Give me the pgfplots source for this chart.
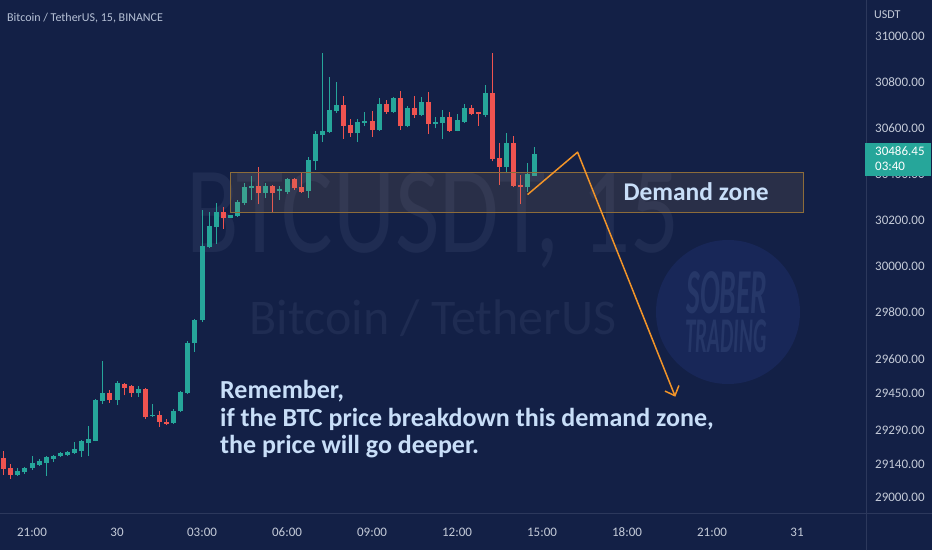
\documentclass[border=0pt]{standalone}
\usepackage{pgfplots}
\pgfplotsset{compat=1.18}
\usepackage{pgfplotstable}
\usepackage{graphicx}
\usetikzlibrary{arrows.meta}
\usepackage{fontspec}
\setmainfont{Carlito}

\definecolor{bg}{RGB}{19,32,70}
\definecolor{sep}{RGB}{44,56,92}
\definecolor{lab}{RGB}{196,202,216}
\definecolor{ttl}{RGB}{182,193,214}
\definecolor{up}{RGB}{38,166,154}
\definecolor{down}{RGB}{239,83,80}
\definecolor{ann}{RGB}{200,222,248}
\definecolor{wm}{RGB}{31,44,82}
\definecolor{logobg}{RGB}{24,39,88}
\definecolor{logotx}{RGB}{38,55,104}
\definecolor{zoneedge}{RGB}{140,108,58}
\definecolor{zonefill}{RGB}{170,135,90}
\definecolor{arrowc}{RGB}{242,148,40}

% BTC/USDT 15-minute candles, k = 0 is 20:00 (29th)
\pgfplotstableread{
k O H L C
0 29170 29201 29097 29121
1 29128 29142 29079 29097
2 29097 29128 29093 29111
3 29107 29131 29100 29128
4 29124 29177 29118 29146
5 29139 29167 29135 29156
6 29149 29177 29093 29173
7 29167 29181 29152 29180
8 29177 29194 29173 29190
9 29184 29201 29177 29195
10 29191 29238 29188 29207
11 29201 29248 29173 29241
12 29234 29308 29177 29252
13 29245 29424 29241 29421
14 29417 29588 29403 29453
15 29453 29464 29410 29421
16 29421 29502 29399 29495
17 29492 29493 29441 29474
18 29481 29488 29432 29450
19 29450 29482 29436 29470
20 29470 29472 29339 29346
21 29351 29403 29349 29356
22 29356 29372 29304 29325
23 29325 29339 29312 29317
24 29319 29382 29317 29374
25 29371 29461 29368 29456
26 29453 29678 29449 29670
27 29667 29774 29631 29769
28 29766 30244 29761 30087
29 30084 30236 30081 30174
30 30171 30276 30099 30236
31 30235 30258 30164 30210
32 30212 30225 30210 30222
33 30217 30287 30215 30280
34 30276 30361 30265 30343
35 30340 30393 30288 30349
36 30349 30431 30270 30317
37 30320 30364 30299 30349
38 30349 30352 30236 30321
39 30326 30349 30288 30335
40 30324 30383 30314 30379
41 30379 30386 30332 30339
42 30343 30412 30321 30324
43 30329 30475 30299 30461
44 30456 30589 30419 30574
45 30569 30925 30540 30589
46 30585 30821 30581 30678
47 30673 30800 30666 30702
48 30702 30741 30555 30611
49 30614 30640 30564 30578
50 30578 30640 30540 30626
51 30623 30670 30611 30632
52 30632 30673 30564 30593
53 30593 30732 30590 30705
54 30705 30722 30662 30670
55 30670 30737 30666 30729
56 30729 30762 30593 30608
57 30608 30696 30604 30688
58 30688 30741 30644 30658
59 30658 30737 30654 30714
60 30714 30755 30574 30618
61 30620 30648 30599 30629
62 30623 30678 30555 30648
63 30648 30670 30585 30589
64 30589 30662 30586 30636
65 30629 30707 30623 30688
66 30688 30700 30656 30661
67 30670 30670 30611 30661
68 30658 30786 30648 30752
69 30752 30925 30456 30466
70 30471 30534 30354 30431
71 30431 30578 30408 30537
72 30537 30567 30343 30349
73 30354 30398 30270 30343
74 30343 30449 30324 30401
75 30393 30520 30392 30486.45
}\candles

\begin{document}
\begin{tikzpicture}
% canvas
\fill[bg] (0pt,0pt) rectangle (932pt,550pt);

% faint watermark
\node[text=wm, inner sep=0pt, anchor=center] at (433pt,330pt)
  {\scalebox{0.78}[1]{\fontsize{124}{124}\selectfont BTCUSDT, 15}};
\node[text=wm, inner sep=0pt, anchor=center] at (433pt,232pt)
  {\fontsize{50}{50}\selectfont Bitcoin / TetherUS};

% logo
\fill[logobg] (728pt,238pt) circle (72pt);
\node[text=logotx, inner sep=0pt] at (727pt,257pt)
  {\scalebox{0.46}[1]{\fontsize{64}{64}\selectfont\bfseries\itshape SOBER}};
\node[text=logotx, inner sep=0pt] at (726pt,214pt)
  {\scalebox{0.42}[1]{\fontsize{50}{50}\selectfont\bfseries\itshape TRADING}};

% panel separators
\draw[sep, line width=1pt] (866pt,0pt) -- (866pt,550pt);
\draw[sep, line width=1pt] (0pt,37pt) -- (932pt,37pt);

\begin{axis}[
  at={(0pt,37pt)}, anchor=south west,
  scale only axis, width=866pt, height=513pt,
  xmin=-0.5176, xmax=121.74,
  ymin=28930.6, ymax=31156.2,
  axis line style={draw=none},
  major tick length=0pt, minor tick length=0pt,
  xtick={4,16,28,40,52,64,76,88,100,112},
  xticklabels={21:00,30,03:00,06:00,09:00,12:00,15:00,18:00,21:00,31},
  xticklabel style={anchor=center, yshift=-19pt, inner sep=0pt,
    font=\fontsize{13}{13}\selectfont, text=lab},
  ytick={29000,29140,29290,29450,29600,29800,30000,30200,30400,30600,30800,31000},
  yticklabels={29000.00,29140.00,29290.00,29450.00,29600.00,29800.00,30000.00,30200.00,30400.00,30600.00,30800.00,31000.00},
  yticklabel pos=right,
  yticklabel style={anchor=west, inner sep=0pt, xshift=9pt,
    font=\fontsize{13}{13}\selectfont, text=lab},
  scaled y ticks=false,
]
% wicks
\addplot[draw=none, mark=none, forget plot,
  restrict expr to domain={\thisrow{C}-\thisrow{O}}{0:100000},
  error bars/.cd, y dir=plus, y explicit, error mark=none,
  error bar style={draw=up, line width=1pt}]
  table[x=k, y=L, y error expr=\thisrow{H}-\thisrow{L}] {\candles};
\addplot[draw=none, mark=none, forget plot,
  restrict expr to domain={\thisrow{O}-\thisrow{C}}{0.001:100000},
  error bars/.cd, y dir=plus, y explicit, error mark=none,
  error bar style={draw=down, line width=1pt}]
  table[x=k, y=L, y error expr=\thisrow{H}-\thisrow{L}] {\candles};
% bodies
\addplot[draw=none, mark=none, forget plot,
  restrict expr to domain={\thisrow{C}-\thisrow{O}}{0:100000},
  error bars/.cd, y dir=plus, y explicit, error mark=none,
  error bar style={draw=up, line width=5pt}]
  table[x=k, y=O, y error expr={max(\thisrow{C}-\thisrow{O},5)}] {\candles};
\addplot[draw=none, mark=none, forget plot,
  restrict expr to domain={\thisrow{O}-\thisrow{C}}{0.001:100000},
  error bars/.cd, y dir=plus, y explicit, error mark=none,
  error bar style={draw=down, line width=5pt}]
  table[x=k, y=C, y error expr={max(\thisrow{O}-\thisrow{C},5)}] {\candles};

% demand zone
\draw[draw=zoneedge, line width=1.2pt, fill=zonefill, fill opacity=0.15]
  (axis cs:32,30233) rectangle (axis cs:112.9,30407);
% projected path
\draw[arrowc, line width=1.5pt, line join=round, -{Straight Barb[length=8pt,width=15pt]}]
  (axis cs:73.96,30312) -- (axis cs:81.02,30496) -- (axis cs:94.82,29435);
\end{axis}

% header and scale captions
\node[anchor=base west, inner sep=0pt, text=ttl] at (7pt,528.3pt)
  {\fontsize{12}{12}\selectfont Bitcoin / TetherUS, 15, BINANCE};
\node[anchor=base west, inner sep=0pt, text=lab] at (874pt,531.8pt)
  {\fontsize{12}{12}\selectfont USDT};

% last price badge
\fill[up] (865pt,374pt) rectangle (931pt,407pt);
\node[anchor=base west, inner sep=0pt, text=white] at (875pt,394pt)
  {\fontsize{13}{13}\selectfont 30486.45};
\node[anchor=base west, inner sep=0pt, text=white] at (875pt,379pt)
  {\fontsize{13}{13}\selectfont 03:40};

% annotations
\node[anchor=base west, inner sep=0pt, text=ann] at (623.3pt,349.3pt)
  {\fontsize{25.5}{25.5}\selectfont\bfseries Demand zone};
\node[anchor=base west, inner sep=0pt, text=ann] at (220pt,152pt)
  {\fontsize{26}{26}\selectfont\bfseries Remember,};
\node[anchor=base west, inner sep=0pt, text=ann] at (220pt,124pt)
  {\fontsize{26}{26}\selectfont\bfseries if the BTC price breakdown this demand zone,};
\node[anchor=base west, inner sep=0pt, text=ann] at (220pt,97pt)
  {\fontsize{26}{26}\selectfont\bfseries the price will go deeper.};

\pgfresetboundingbox
\useasboundingbox (0pt,0pt) rectangle (932pt,550pt);
\end{tikzpicture}
\end{document}
